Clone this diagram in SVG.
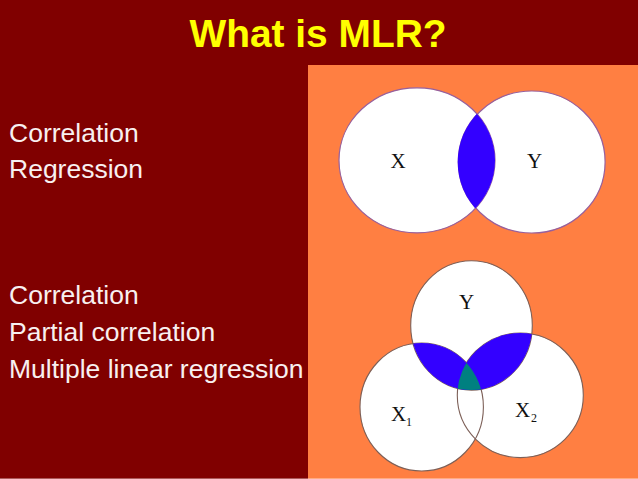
<svg xmlns="http://www.w3.org/2000/svg" width="638" height="479" viewBox="0 0 638 479">
<style>
.title{font:bold 38.9px "Liberation Sans",Arial,sans-serif;fill:#ffff00}
.body{font:26.5px "Liberation Sans",Arial,sans-serif;fill:#f8f0f0}
.lab{font:21px "Liberation Serif","Times New Roman",serif;fill:#111}
.sub{font:12px "Liberation Serif","Times New Roman",serif;fill:#111}
.w{fill:#fff}
.ot{fill:none;stroke:#96609e;stroke-width:1.2}
.ob{fill:none;stroke:#7d6058;stroke-width:1.1}
</style>
<defs>
<clipPath id="cA"><ellipse cx="417" cy="160.3" rx="78" ry="72.5"/></clipPath>
<clipPath id="cY"><ellipse cx="471.5" cy="325.4" rx="60.8" ry="64.7"/></clipPath>
<clipPath id="cX1"><ellipse cx="421.7" cy="407" rx="61.7" ry="64"/></clipPath>
</defs>
<rect width="638" height="479" fill="#800000"/>
<rect x="308" y="65" width="330" height="414" fill="#ff7f42"/>
<rect y="478" width="638" height="1" fill="#fff" fill-opacity="0.35"/>
<text class="title" x="318" y="47" text-anchor="middle">What is MLR?</text>
<g id="text-left">
<text class="body" x="9" y="142">Correlation</text>
<text class="body" x="9" y="178">Regression</text>
<text class="body" x="9" y="304">Correlation</text>
<text class="body" x="9" y="341">Partial correlation</text>
<text class="body" x="9" y="378">Multiple linear regression</text>
</g>
<g id="venn-two">
<g id="circle-x"><ellipse class="w" cx="417" cy="160.3" rx="78" ry="72.5"/></g>
<g id="circle-y"><ellipse class="w" cx="531.7" cy="162" rx="73.4" ry="71"/></g>
<ellipse class="ot" cx="417" cy="160.3" rx="78" ry="72.5"/>
<ellipse class="ot" cx="531.7" cy="162" rx="73.4" ry="71"/>
<g clip-path="url(#cA)"><ellipse cx="531.7" cy="162" rx="74" ry="71.6" fill="#3300ff"/></g>
<text class="lab" x="398" y="168" text-anchor="middle">X</text>
<text class="lab" x="534.5" y="168" text-anchor="middle">Y</text>
</g>
<g id="venn-three">
<g id="circle-x2"><ellipse class="w" cx="520.3" cy="395.3" rx="63" ry="62.3"/></g>
<g id="circle-x1"><ellipse class="w" cx="421.7" cy="407" rx="61.7" ry="64"/></g>
<g id="circle-y2"><ellipse class="w" cx="471.5" cy="325.4" rx="60.8" ry="64.7"/></g>
<ellipse class="ob" cx="471.5" cy="325.4" rx="60.8" ry="64.7"/>
<ellipse class="ob" cx="421.7" cy="407" rx="61.7" ry="64"/>
<ellipse class="ob" cx="520.3" cy="395.3" rx="63" ry="62.3"/>
<g clip-path="url(#cY)">
<ellipse cx="421.7" cy="407" rx="61.7" ry="64" fill="#3300ff"/>
<ellipse cx="520.3" cy="395.3" rx="63" ry="62.3" fill="#3300ff"/>
<g clip-path="url(#cX1)"><ellipse cx="520.3" cy="395.3" rx="63" ry="62.3" fill="#008080"/></g>
</g>
<text class="lab" x="466.5" y="309" text-anchor="middle">Y</text>
<text class="lab" x="391" y="421">X</text><text class="sub" x="406" y="426">1</text>
<text class="lab" x="515" y="417">X</text><text class="sub" x="531" y="422">2</text>
</g>
</svg>
